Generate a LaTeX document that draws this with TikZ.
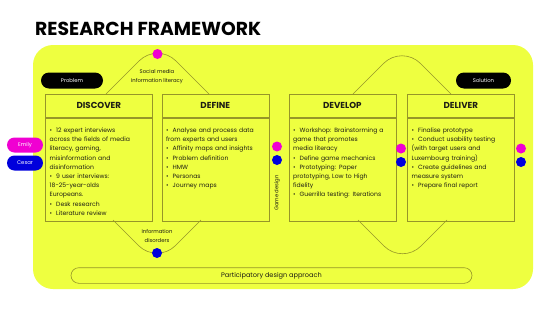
\documentclass[tikz,border=0pt]{standalone}
\usepackage{fontspec}
\setmainfont{Poppins}
\definecolor{bgy}{RGB}{238,255,64}
\definecolor{olv}{RGB}{150,150,40}
\definecolor{mag}{RGB}{240,0,210}
\definecolor{blu}{RGB}{0,0,220}
\definecolor{ink}{RGB}{30,30,20}
\newcommand\itm[1]{\par\hangindent=6.5pt\hangafter=1\noindent\makebox[6.5pt][l]{\textbullet}#1}
\begin{document}
\begin{tikzpicture}[x=1pt,y=-1pt,
  hdr/.style={draw=olv, line width=0.6pt, minimum width=107pt, minimum height=23pt, inner sep=0, anchor=north west, font=\fontsize{8.7}{10}\selectfont\bfseries, text=ink},
  bodybox/.style={draw=olv, line width=0.6pt, minimum width=107pt, minimum height=103pt, inner sep=0, anchor=north west},
  bodytext/.style={text width=100pt, inner sep=0, anchor=north west, align=left, font=\fontsize{6.1}{9.2}\selectfont, text=ink},
  arch/.style={draw=olv, line width=0.6pt, rounded corners=26pt},
  sdot/.style={circle, minimum size=10pt, inner sep=0},
  pill/.style={rounded corners=8pt, minimum height=16pt, inner sep=0, text=white, font=\fontsize{5.3}{6}\selectfont},
  small/.style={font=\fontsize{5.3}{8.5}\selectfont, text=ink, align=center, inner sep=0}
]
\useasboundingbox (0,0) rectangle (554,311);
\fill[white] (0,0) rectangle (554,311);
\fill[bgy, rounded corners=20pt] (33,45) rectangle (533,289);

\node[anchor=base west, inner sep=0, font=\fontsize{18.8}{20}\selectfont\bfseries] (title) at (35,35) {RESEARCH FRAMEWORK};

% arches
\coordinate (a1) at (106,94); \coordinate (a2) at (157.5,42.5); \coordinate (a3) at (209,94);
\coordinate (b1) at (353,94); \coordinate (b2) at (402,45); \coordinate (b3) at (451,94);
\coordinate (c1) at (113,220); \coordinate (c2) at (157,264); \coordinate (c3) at (201,220);
\coordinate (d1) at (358,220); \coordinate (d2) at (402.5,264.5); \coordinate (d3) at (447,220);
\draw[arch] (a1) -- (a2) -- (a3);
\draw[arch] (b1) -- (b2) -- (b3);
\draw[arch] (c1) -- (c2) -- (c3);
\draw[arch] (d1) -- (d2) -- (d3);

% boxes
\node[hdr] (h1) at (45,94) {DISCOVER};
\node[bodybox] (b1box) at (h1.south west) {};
\node[hdr] (h2) at (161.5,94) {DEFINE};
\node[bodybox] (b2box) at (h2.south west) {};
\node[hdr] (h3) at (288.5,94) {DEVELOP};
\node[bodybox] (b3box) at (h3.south west) {};
\node[hdr] (h4) at (407,94) {DELIVER};
\node[bodybox] (b4box) at (h4.south west) {};

\node[bodytext] (t1) at ([xshift=4.5pt,yshift=-5.5pt]b1box.north west) {%
\itm{12 expert interviews\\across the fields of media\\literacy, gaming,\\misinformation and\\disinformation}
\itm{9 user interviews:\\18-25-year-olds\\Europeans.}
\itm{Desk research}
\itm{Literature review}};
\node[bodytext] (t2) at ([xshift=4.5pt,yshift=-5.5pt]b2box.north west) {%
\itm{Analyse and process data\\from experts and users}
\itm{Affinity maps and insights}
\itm{Problem definition}
\itm{HMW}
\itm{Personas}
\itm{Journey maps}};
\node[bodytext] (t3) at ([xshift=4.5pt,yshift=-5.5pt]b3box.north west) {%
\itm{Workshop: Brainstorming a\\game that promotes\\media literacy}
\itm{Define game mechanics}
\itm{Prototyping: Paper\\prototyping, Low to High\\fidelity}
\itm{Guerrilla testing: Iterations}};
\node[bodytext] (t4) at ([xshift=4.5pt,yshift=-5.5pt]b4box.north west) {%
\itm{Finalise prototype}
\itm{Conduct usability testing\\(with target users and\\Luxembourg training)}
\itm{Create guidelines and\\measure system}
\itm{Prepare final report}};

% labels
\node[small] (lab1) at (157,76.5) {Social media\\Information literacy};
\node[small] (lab2) at (157,236) {Information\\disorders};
\node[small, rotate=90] (lab3) at (277,193) {Game design};

% dots
\node[sdot, fill=mag] (m0) at (157.5,54) {};
\node[sdot, fill=blu] (n0) at (157,253) {};
\node[sdot, fill=mag] (m1) at (277,146.5) {};
\node[sdot, fill=blu] (n1) at (277,160) {};
\node[sdot, fill=mag] (m2) at (401,148.5) {};
\node[sdot, fill=blu] (n2) at (401,162) {};
\node[sdot, fill=mag] (m3) at (521,148.5) {};
\node[sdot, fill=blu] (n3) at (521,162) {};

% pills
\node[pill, fill=black, minimum width=62pt] (prob) at (72,80.5) {Problem};
\node[pill, fill=black, minimum width=55pt] (sol) at (483.5,80.5) {Solution};
\node[pill, fill=mag, minimum width=36pt, minimum height=15pt, rounded corners=7.5pt] (emily) at (25,145) {Emily};
\node[pill, fill=blu, minimum width=36pt, minimum height=15pt, rounded corners=7.5pt] (cesar) at (25,163) {Cesar};

\node[draw=olv, line width=0.6pt, rounded corners=7.8pt, minimum width=401pt, minimum height=15.6pt, inner sep=0, text=ink, font=\fontsize{6.6}{8}\selectfont] (pda) at (271.5,275.5) {Participatory design approach};
\end{tikzpicture}
\end{document}
